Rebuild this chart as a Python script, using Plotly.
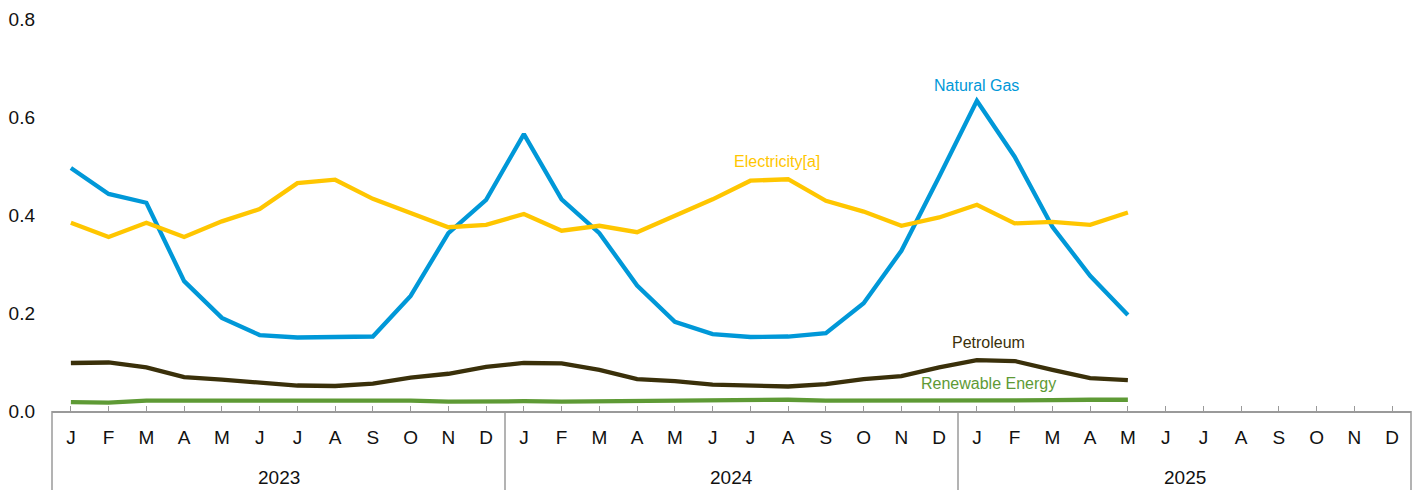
import plotly.graph_objects as go

years = ["2023", "2024", "2025"]
months = ["J", "F", "M", "A", "M", "J", "J", "A", "S", "O", "N", "D"]

natural_gas = [0.496, 0.443, 0.425, 0.265, 0.190, 0.155, 0.150, 0.152, 0.152, 0.235, 0.363, 0.431,
               0.565, 0.432, 0.363, 0.256, 0.182, 0.157, 0.151, 0.152, 0.159, 0.220, 0.327, 0.478,
               0.633, 0.519, 0.376, 0.276, 0.196]
electricity = [0.384, 0.355, 0.384, 0.355, 0.387, 0.412, 0.465, 0.472, 0.433, 0.403, 0.375, 0.380,
               0.402, 0.368, 0.378, 0.365, 0.398, 0.432, 0.470, 0.473, 0.429, 0.407, 0.378, 0.395,
               0.421, 0.383, 0.386, 0.380, 0.405]
petroleum = [0.098, 0.099, 0.089, 0.069, 0.064, 0.057, 0.052, 0.051, 0.056, 0.068, 0.076, 0.090,
             0.098, 0.097, 0.084, 0.065, 0.061, 0.054, 0.051, 0.050, 0.055, 0.065, 0.071, 0.089,
             0.104, 0.102, 0.084, 0.067, 0.063]
renewable = [0.018, 0.017, 0.021, 0.021, 0.022, 0.022, 0.023, 0.023, 0.021, 0.021, 0.019, 0.020,
             0.020, 0.019, 0.020, 0.020, 0.022, 0.022, 0.023, 0.023, 0.021, 0.021, 0.020, 0.020,
             0.021, 0.020, 0.022, 0.023, 0.023]

n_months = len(months)
n_all = n_months * len(years)
tick_positions = list(range(n_all))
tick_labels = months * len(years)

series = [
    ("Natural Gas", natural_gas, "#0098D8"),
    ("Electricity[a]", electricity, "#FFC600"),
    ("Petroleum", petroleum, "#3A300A"),
    ("Renewable Energy", renewable, "#5E9A35"),
]

fig = go.Figure()
for name, vals, color in series:
    fig.add_trace(go.Scatter(
        x=list(range(len(vals))), y=vals, mode="lines", name=name,
        line=dict(color=color, width=4.3),
    ))

labels = [
    ("Natural Gas", 24.0, 0.665, "#0098D8"),
    ("Electricity[a]", 18.7, 0.510, "#FFC600"),
    ("Petroleum", 24.3, 0.139, "#3A300A"),
    ("Renewable Energy", 24.3, 0.057, "#5E9A35"),
]
for text, xi, yv, color in labels:
    fig.add_annotation(x=xi, y=yv, xref="x", yref="y", text=text, showarrow=False,
                       font=dict(size=16, color=color, family="Liberation Sans, Arial"))

AX = "#9A9A9A"
# year group labels and dividers
for i, yr in enumerate(years):
    center = i * n_months + (n_months - 1) / 2
    fig.add_annotation(x=center, y=0, xref="x", yref="paper", yanchor="middle",
                       yshift=-66, text=yr, showarrow=False,
                       font=dict(size=19, color="#111", family="Liberation Sans, Arial"))
# outer edges of the box
for xd in (0, 1):
    fig.add_shape(type="line", xref="x domain", yref="paper", x0=xd, x1=xd, y0=0, y1=-0.25,
                  line=dict(color=AX, width=1.5))
# inner dividers between years
for i in range(1, len(years)):
    b = i * n_months - 0.5
    fig.add_shape(type="line", xref="x", yref="paper", x0=b, x1=b, y0=0, y1=-0.25,
                  line=dict(color=AX, width=1.5))

fig.update_layout(
    width=1421, height=490,
    margin=dict(l=44, r=18, t=11, b=87, autoexpand=False),
    paper_bgcolor="white", plot_bgcolor="white",
    showlegend=False,
    font=dict(family="Liberation Sans, Arial", size=19, color="#111"),
)
fig.update_xaxes(
    range=[-0.5, n_all - 0.5], automargin=False,
    tickmode="array", tickvals=tick_positions, ticktext=tick_labels,
    showline=True, linecolor=AX, linewidth=1.5,
    ticks="inside", ticklen=5, tickcolor=AX, tickwidth=1,
    ticklabelstandoff=8,
    showgrid=False, zeroline=False,
    tickfont=dict(size=19, color="#111"),
)
fig.update_yaxes(
    range=[0, 0.8], automargin=False,
    tickvals=[0, 0.2, 0.4, 0.6, 0.8], ticktext=["0.0", "0.2", "0.4", "0.6", "0.8"],
    showgrid=False, zeroline=False, showline=False, ticks="",
    ticklabelstandoff=16, tickfont=dict(size=19, color="#111"),
)

fig.write_html("out.html")
